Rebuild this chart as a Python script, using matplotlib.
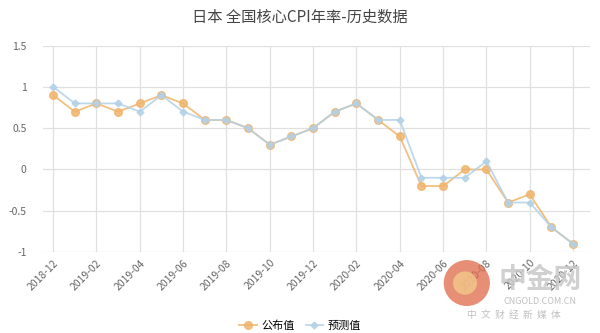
import matplotlib.pyplot as plt
from matplotlib.patches import Ellipse

plt.rcParams['font.family'] = ['Noto Sans CJK SC', 'DejaVu Sans']

months = ["2018-12", "2019-01", "2019-02", "2019-03", "2019-04", "2019-05", "2019-06",
          "2019-07", "2019-08", "2019-09", "2019-10", "2019-11", "2019-12",
          "2020-01", "2020-02", "2020-03", "2020-04", "2020-05", "2020-06",
          "2020-07", "2020-08", "2020-09", "2020-10", "2020-11", "2020-12"]
actual = [0.9, 0.7, 0.8, 0.7, 0.8, 0.9, 0.8, 0.6, 0.6, 0.5, 0.3, 0.4, 0.5,
          0.7, 0.8, 0.6, 0.4, -0.2, -0.2, 0.0, 0.0, -0.4, -0.3, -0.7, -0.9]
forecast = [1.0, 0.8, 0.8, 0.8, 0.7, 0.9, 0.7, 0.6, 0.6, 0.5, 0.3, 0.4, 0.5,
            0.7, 0.8, 0.6, 0.6, -0.1, -0.1, -0.1, 0.1, -0.4, -0.4, -0.7, -0.9]
yticks = [-1, -0.5, 0, 0.5, 1, 1.5]
ytick_labels = ["-1", "-0.5", "0", "0.5", "1", "1.5"]

orange = "#f0b46c"
blue = "#b3d1e6"

fig = plt.figure(figsize=(6, 3.33), dpi=100)
ax = fig.add_axes([0.072, 0.243, 0.912, 0.62])

x = list(range(len(months)))
ax.plot(x, actual, color=orange, lw=1.3, marker="o", ms=5.5, alpha=0.85,
        label="公布值", zorder=3)
ax.plot(x, forecast, color=blue, lw=1.3, marker="D", ms=3.5, alpha=0.85,
        label="预测值", zorder=4)

ax.set_xlim(-0.46, len(months) - 0.2)
ax.set_ylim(-1, 1.5)
ax.set_yticks(yticks)
ax.set_yticklabels(ytick_labels)
ax.set_xticks(x[::2])
ax.set_xticklabels(months[::2], rotation=45, ha="right", rotation_mode="anchor")

ax.grid(True, color="#e0e0e0", lw=0.9)
ax.set_axisbelow(True)
for s in ax.spines.values():
    s.set_visible(False)
ax.tick_params(length=0, colors="#666666", labelsize=7.5)
ax.tick_params(axis="y", pad=12)
ax.tick_params(axis="x", pad=4)

fig.suptitle("日本 全国核心CPI年率-历史数据", x=0.5, y=0.975, fontsize=11, color="#444444")

fig.legend(loc="lower center", bbox_to_anchor=(0.5, -0.025), ncol=2, frameon=False,
           fontsize=8, handlelength=1.6, columnspacing=1.0, handletextpad=0.4)

# watermark
fig.patches.append(Ellipse((0.778, 0.15), 0.077, 0.138, transform=fig.transFigure,
                           facecolor="#e0684a", alpha=0.75, zorder=10, edgecolor="none"))
fig.patches.append(Ellipse((0.775, 0.15), 0.04, 0.07, transform=fig.transFigure,
                           facecolor="#f3c98a", alpha=0.8, zorder=10, edgecolor="none"))
fig.text(0.9, 0.16, "中金网", fontsize=20, color="#c8c8c8", alpha=0.85, ha="center",
         va="center", fontweight="bold", zorder=11)
fig.text(0.9, 0.096, "CNGOLD.COM.CN", fontsize=6.5, color="#c0c0c0", ha="center", va="center")
fig.text(0.857, 0.054, "中  文  财  经  新  媒  体", fontsize=7, color="#c0c0c0", ha="center",
         va="center")

fig.savefig("out.png", dpi=100)
